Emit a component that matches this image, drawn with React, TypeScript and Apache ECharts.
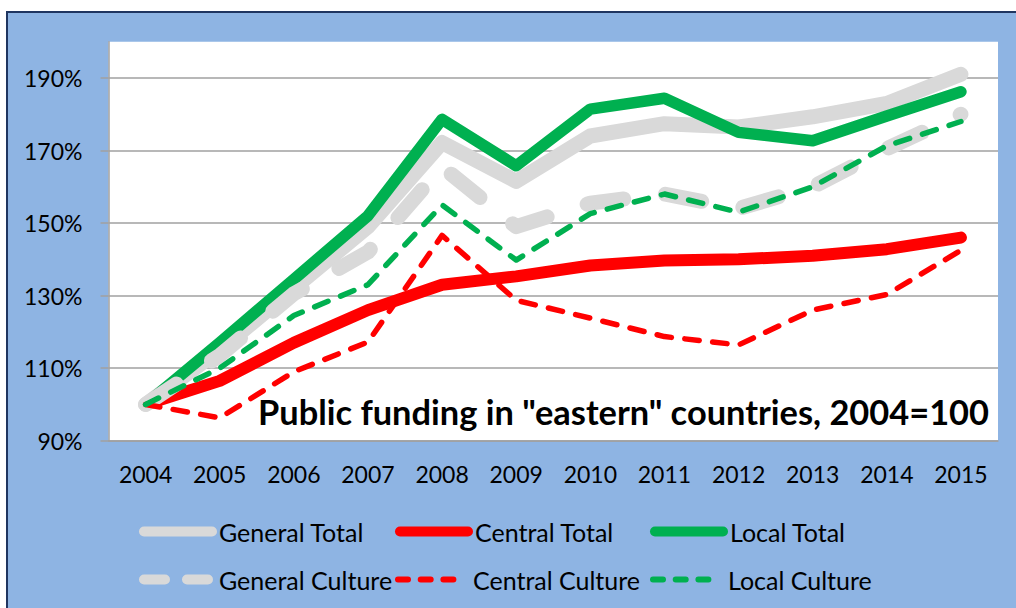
import React, { useEffect, useRef } from "react";
import * as echarts from "echarts";

const years = ["2004", "2005", "2006", "2007", "2008", "2009", "2010", "2011", "2012", "2013", "2014", "2015"];
const generalTotal = [100, 115, 132, 149, 172.2, 161.5, 174, 177.4, 176.5, 179.3, 183, 191];
const centralTotal = [100, 106.5, 117, 126, 133, 135.3, 138.3, 139.7, 140, 141, 142.8, 146];
const localTotal = [100, 117, 134.5, 152, 178.6, 165.8, 181.4, 184.4, 175, 172.7, 179.5, 186.2];
const generalCulture = [100, 113.5, 130.5, 142, 165.5, 149, 155.5, 158, 154, 160, 170.5, 180];
const centralCulture = [100, 96.3, 109, 117.2, 146.6, 128.7, 123.8, 118.7, 116.4, 126, 130.3, 142.5];
const localCulture = [100, 110, 124.5, 133, 155, 139.8, 152.6, 158, 153, 160, 171.3, 178];
const yTicks = [90, 110, 130, 150, 170, 190];

const GRAY = "#D9D9D9";
const RED = "#FF0000";
const GREEN = "#00B050";
const BLUE = "#8EB4E3";
const NAVY = "#1F3560";
const GRID = "#A0A0A0";
const FONT = "Lato";

export default function App() {
  const ref = useRef<HTMLDivElement>(null);
  useEffect(() => {
    if (!ref.current) return;
    const chart = echarts.init(ref.current, null, { renderer: "svg" });

    const series = [
      { name: "General Total", data: generalTotal, color: GRAY, width: 15, type: "solid" as any },
      { name: "Central Total", data: centralTotal, color: RED, width: 12, type: "solid" as any },
      { name: "Local Total", data: localTotal, color: GREEN, width: 11.5, type: "solid" as any },
      { name: "General Culture", data: generalCulture, color: GRAY, width: 15, type: [37, 42] as any },
      { name: "Central Culture", data: centralCulture, color: RED, width: 5.5, type: [14.5, 13.5] as any },
      { name: "Local Culture", data: localCulture, color: GREEN, width: 5.5, type: [14.5, 13.5] as any },
    ];

    const legendDefs = [
      { name: "General Total", left: 139, top: 519, width: 10, type: "solid" as any, color: GRAY },
      { name: "Central Total", left: 395, top: 519, width: 10, type: "solid" as any, color: RED },
      { name: "Local Total", left: 650, top: 519, width: 10, type: "solid" as any, color: GREEN },
      { name: "General Culture", left: 139, top: 567, width: 10, type: [21, 22] as any, color: GRAY },
      { name: "Central Culture", left: 395, top: 567, width: 6, type: [10, 12.7] as any, color: RED },
      { name: "Local Culture", left: 650, top: 567, width: 6, type: [10, 12.7] as any, color: GREEN },
    ];

    chart.setOption({
      animation: false,
      backgroundColor: "#FFFFFF",
      textStyle: { fontFamily: FONT },
      graphic: [
        {
          type: "rect",
          z: -10,
          shape: { x: 7, y: 12, width: 1030, height: 620 },
          style: { fill: BLUE, stroke: NAVY, lineWidth: 2 },
          silent: true,
        },
        {
          type: "text",
          z: 100,
          x: 989,
          y: 411,
          style: {
            text: 'Public funding in "eastern" countries, 2004=100',
            fontFamily: FONT,
            fontWeight: "bold",
            fontSize: 34.4,
            fill: "#000",
            align: "right",
            verticalAlign: "middle",
          },
        },
      ],
      grid: {
        left: 108.5,
        top: 41.7,
        width: 889.5,
        height: 399,
        show: true,
        backgroundColor: "#FFFFFF",
        borderWidth: 0,
        containLabel: false,
      },
      legend: legendDefs.map((l) => ({
        data: [l.name],
        left: l.left,
        top: l.top,
        padding: 0,
        itemWidth: 68,
        itemHeight: 30,
        selectedMode: false,
        itemStyle: { color: "transparent", borderColor: "transparent", borderWidth: 0, opacity: 0 },
        lineStyle: { width: l.width, type: l.type, cap: "round", color: l.color },
        textStyle: { fontFamily: FONT, fontSize: 25, color: "#000", padding: [0, 0, 0, 2] },
      })),
      xAxis: {
        type: "category",
        data: years,
        boundaryGap: true,
        axisLine: { lineStyle: { color: GRID, width: 1.5 } },
        axisTick: { length: 8, lineStyle: { color: GRID, width: 1.5 } },
        axisLabel: { fontFamily: FONT, fontSize: 23, color: "#000", margin: 22 },
        splitLine: { show: false },
      },
      yAxis: {
        type: "value",
        min: 90,
        max: 200,
        axisLine: { show: true, lineStyle: { color: GRID, width: 1.5 } },
        axisTick: { show: true, length: 8, customValues: yTicks, lineStyle: { color: GRID, width: 1.5 } },
        axisLabel: {
          fontFamily: FONT,
          fontSize: 23,
          color: "#000",
          margin: 26,
          customValues: yTicks,
          formatter: (v: number) => v + "%",
        },
        splitLine: { show: true, lineStyle: { color: GRID, width: 1.5 } },
      },
      series: series.map((s) => ({
        name: s.name,
        type: "line",
        data: s.data,
        symbol: "none",
        smooth: false,
        color: s.color,
        lineStyle: { color: s.color, width: s.width, type: s.type, cap: "round", join: "round" },
      })),
    });
    return () => chart.dispose();
  }, []);
  return (
    <div
      ref={ref}
      style={{ position: "absolute", left: 0, top: 0, width: 1016, height: 608 }}
    />
  );
}
